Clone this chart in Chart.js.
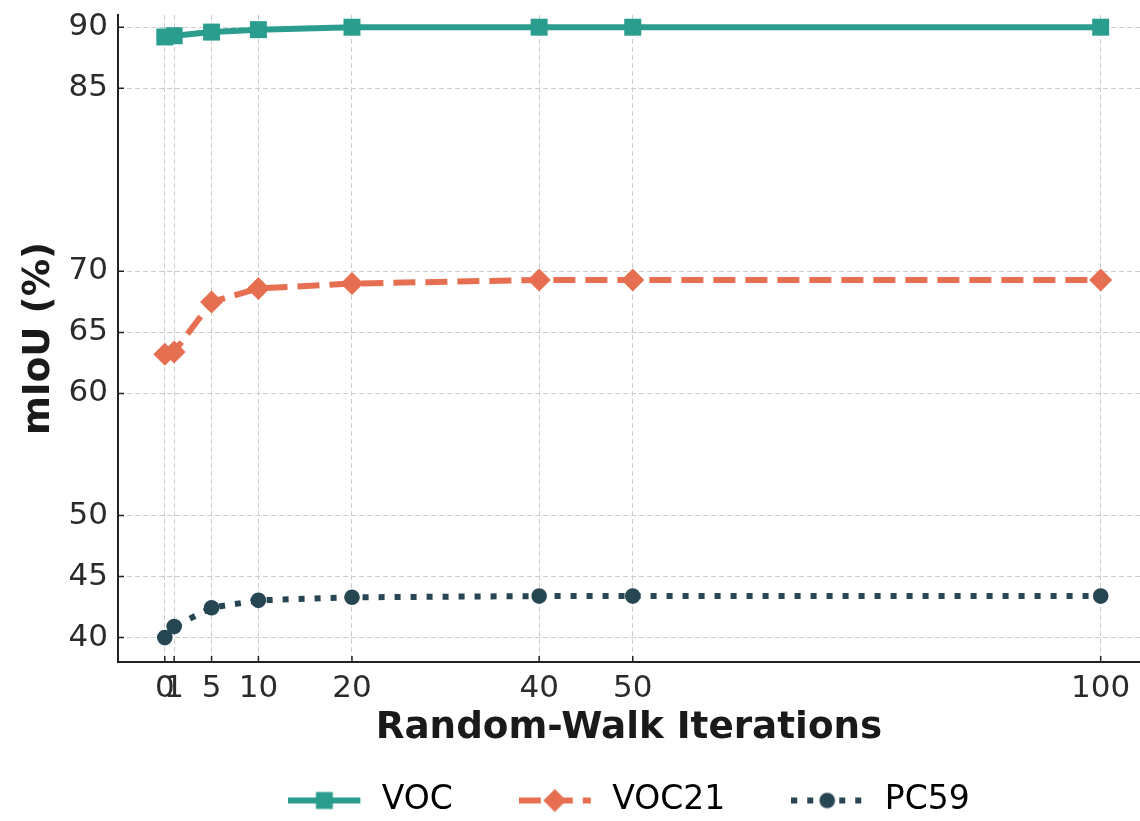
<!DOCTYPE html>
<html><head><meta charset="utf-8">
<script src="https://cdn.jsdelivr.net/npm/chart.js@4"></script>
<style>html,body{margin:0;padding:0;background:#fff;overflow:hidden}</style>
</head><body>
<canvas id="c" width="1140" height="821"></canvas>
<script>
const iterations = [0, 1, 5, 10, 20, 40, 50, 100];
const vocValues = [89.2, 89.3, 89.6, 89.8, 90.0, 90.0, 90.0, 90.0];
const voc21Values = [63.2, 63.4, 67.5, 68.6, 69.0, 69.3, 69.3, 69.3];
const pc59Values = [40.0, 40.9, 42.45, 43.05, 43.3, 43.4, 43.4, 43.4];
const xTickValues = [0, 1, 5, 10, 20, 40, 50, 100];
const yTickValues = [40, 45, 50, 60, 65, 70, 85, 90];
const seriesNames = ['VOC', 'VOC21', 'PC59'];

const COLORS = ['#2a9d8f', '#e76f51', '#264653'];
const DASHES = [[], [22, 10], [6, 10]];
const STYLES = ['rect', 'rectRot', 'circle'];
const RADII = [12, 11.5, 7.8];
const FAMILY = "'DejaVu Sans', sans-serif";

function toPoints(vals) { return iterations.map((x, i) => ({ x: x, y: vals[i] })); }

function legendSample(idx) {
  const c = document.createElement('canvas');
  c.width = 77; c.height = 30;
  const g = c.getContext('2d');
  const col = COLORS[idx];
  g.strokeStyle = col; g.lineWidth = 6; g.lineCap = 'butt';
  g.setLineDash(DASHES[idx]);
  g.beginPath(); g.moveTo(0, 15); g.lineTo(72, 15); g.stroke();
  g.setLineDash([]);
  g.fillStyle = col;
  const cx = 36, cy = 15;
  g.beginPath();
  if (STYLES[idx] === 'rect') {
    const s = RADII[0] * Math.SQRT1_2;
    g.rect(cx - s, cy - s, 2 * s, 2 * s);
  } else if (STYLES[idx] === 'rectRot') {
    const r = RADII[1];
    g.moveTo(cx - r, cy); g.lineTo(cx, cy - r); g.lineTo(cx + r, cy); g.lineTo(cx, cy + r); g.closePath();
  } else {
    g.arc(cx, cy, RADII[2], 0, Math.PI * 2);
  }
  g.fill();
  return c;
}
const samples = [0, 1, 2].map(legendSample);

const seriesValues = [vocValues, voc21Values, pc59Values];
const datasets = seriesNames.map((name, i) => ({
  label: name,
  data: toPoints(seriesValues[i]),
  borderColor: COLORS[i],
  backgroundColor: COLORS[i],
  borderWidth: 6,
  borderDash: DASHES[i],
  borderCapStyle: 'butt',
  borderJoinStyle: 'round',
  tension: 0,
  pointStyle: STYLES[i],
  pointRadius: RADII[i],
  pointHoverRadius: RADII[i],
  pointBorderWidth: 0,
  pointBackgroundColor: COLORS[i]
}));

const inwardTicks = {
  id: 'inwardTicks',
  afterDraw(chart) {
    const { ctx, chartArea, scales } = chart;
    ctx.save();
    ctx.strokeStyle = '#222'; ctx.lineWidth = 1.5; ctx.setLineDash([]);
    ctx.beginPath();
    xTickValues.forEach(v => { const px = scales.x.getPixelForValue(v); ctx.moveTo(px, chartArea.bottom); ctx.lineTo(px, chartArea.bottom - 6); });
    yTickValues.forEach(v => { const py = scales.y.getPixelForValue(v); ctx.moveTo(chartArea.left, py); ctx.lineTo(chartArea.left + 6, py); });
    ctx.stroke();
    ctx.restore();
  }
};

function zeroPad(s) { s.paddingTop = 0; s.paddingBottom = 0; s.paddingLeft = 0; s.paddingRight = 0; }

new Chart(document.getElementById('c'), {
  type: 'line',
  data: { datasets: datasets },
  options: {
    responsive: false,
    animation: false,
    events: [],
    layout: { autoPadding: false, padding: { top: 15, left: 0, right: 0, bottom: 0 } },
    scales: {
      x: {
        type: 'linear', min: -5, max: 104.2,
        afterBuildTicks: s => { s.ticks = xTickValues.map(v => ({ value: v })); },
        afterFit: s => { s.height = 98; zeroPad(s); },
        ticks: { autoSkip: false, maxRotation: 0, padding: 8, color: '#2b2b2b', font: { family: FAMILY, size: 31 } },
        grid: { color: '#cccccc', lineWidth: 1, drawTicks: false },
        border: { display: true, color: '#222', width: 2, dash: [5, 3] },
        title: { display: true, text: 'Random-Walk Iterations', color: '#1a1a1a', padding: { top: 0, bottom: 9 }, font: { family: FAMILY, size: 37.3, weight: 'bold' } }
      },
      y: {
        type: 'linear', min: 38, max: 91,
        afterBuildTicks: s => { s.ticks = yTickValues.map(v => ({ value: v })); },
        afterFit: s => { s.width = 118; zeroPad(s); },
        ticks: { autoSkip: false, padding: 10, color: '#2b2b2b', font: { family: FAMILY, size: 31 } },
        grid: { color: '#cccccc', lineWidth: 1, drawTicks: false },
        border: { display: true, color: '#222', width: 2, dash: [5, 3] },
        title: { display: true, text: 'mIoU (%)', color: '#1a1a1a', padding: { top: 17, bottom: 0 }, font: { family: FAMILY, size: 37.3, weight: 'bold' } }
      }
    },
    plugins: {
      tooltip: { enabled: false },
      legend: {
        position: 'bottom',
        fullSize: false,
        maxHeight: 61,
        labels: {
          usePointStyle: true,
          pointStyleWidth: 77,
          padding: 24,
          color: '#333',
          font: { family: FAMILY, size: 33 },
          generateLabels: chart => chart.data.datasets.map((ds, i) => ({
            text: i < chart.data.datasets.length - 1 ? ds.label + '    ' : ds.label,
            pointStyle: samples[i],
            fillStyle: ds.borderColor,
            strokeStyle: ds.borderColor,
            lineWidth: 0,
            hidden: false,
            datasetIndex: i
          }))
        }
      }
    }
  },
  plugins: [inwardTicks]
});
</script>
</body></html>
